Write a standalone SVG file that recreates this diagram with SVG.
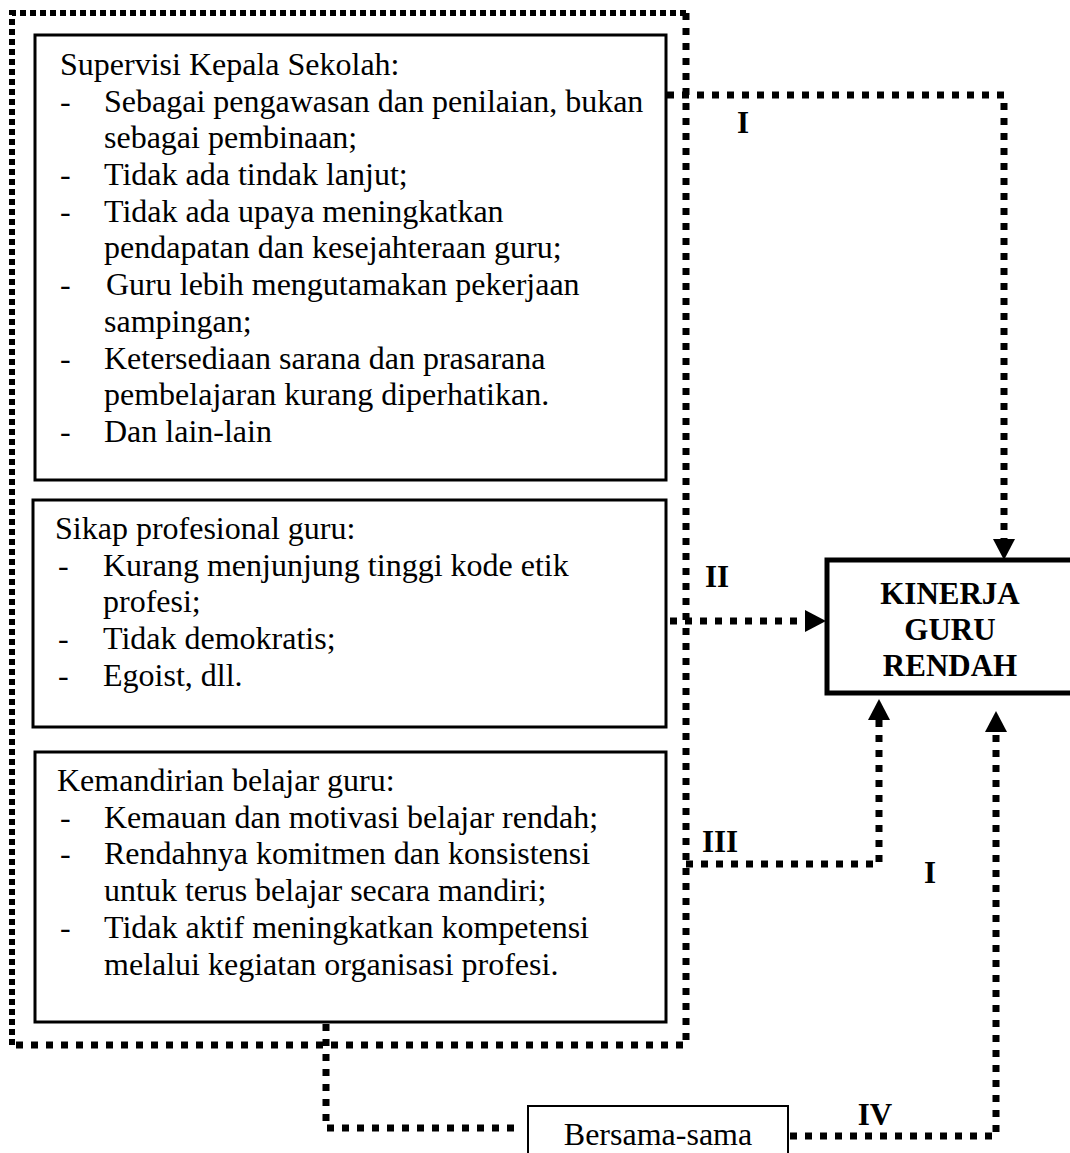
<svg xmlns="http://www.w3.org/2000/svg" width="1070" height="1153" viewBox="0 0 1070 1153">
<style>
text{font-family:"Liberation Serif","Times New Roman",serif;fill:#000}
.t{font-size:32px}
.b{font-size:31px;font-weight:bold}
.box{fill:#fff;stroke:#000;stroke-width:3}
.dot{fill:none;stroke:#000;stroke-width:7;stroke-dasharray:7 8}
.dotfine{fill:none;stroke:#000;stroke-width:6;stroke-dasharray:6 4}
</style>
<defs>
<marker id="ah" markerUnits="userSpaceOnUse" markerWidth="24" markerHeight="24" refX="0" refY="11" orient="auto" overflow="visible">
<path d="M0,0 L21,11 L0,22 z" fill="#000"/>
</marker>
</defs>
<rect width="1070" height="1153" fill="#fff"/>

<g id="group-frame">
<path class="dotfine" d="M12,1045 V13 H686"/>
<path class="dot" d="M686,13 V1045 H12"/>
</g>

<g id="node-supervisi">
<rect class="box" x="35" y="35" width="631" height="445"/>
<text class="t" x="60" y="75">Supervisi Kepala Sekolah:</text>
<text class="t" x="60" y="112">-</text><text class="t" x="104" y="112">Sebagai pengawasan dan penilaian, bukan</text>
<text class="t" x="104" y="148">sebagai pembinaan;</text>
<text class="t" x="60" y="185">-</text><text class="t" x="104" y="185">Tidak ada tindak lanjut;</text>
<text class="t" x="60" y="222">-</text><text class="t" x="104" y="222">Tidak ada upaya meningkatkan</text>
<text class="t" x="104" y="258">pendapatan dan kesejahteraan guru;</text>
<text class="t" x="60" y="295">-</text><text class="t" x="106" y="295">Guru lebih mengutamakan pekerjaan</text>
<text class="t" x="104" y="332">sampingan;</text>
<text class="t" x="60" y="369">-</text><text class="t" x="104" y="369">Ketersediaan sarana dan prasarana</text>
<text class="t" x="104" y="405">pembelajaran kurang diperhatikan.</text>
<text class="t" x="60" y="442">-</text><text class="t" x="104" y="442">Dan lain-lain</text>
</g>

<g id="node-sikap">
<rect class="box" x="33" y="500" width="633" height="227"/>
<text class="t" x="55" y="539">Sikap profesional guru:</text>
<text class="t" x="58" y="576">-</text><text class="t" x="103" y="576">Kurang menjunjung tinggi kode etik</text>
<text class="t" x="103" y="612">profesi;</text>
<text class="t" x="58" y="649">-</text><text class="t" x="103" y="649">Tidak demokratis;</text>
<text class="t" x="58" y="686">-</text><text class="t" x="103" y="686">Egoist, dll.</text>
</g>

<g id="node-kemandirian">
<rect class="box" x="35" y="752" width="631" height="270"/>
<text class="t" x="57" y="791">Kemandirian belajar guru:</text>
<text class="t" x="60" y="828">-</text><text class="t" x="104" y="828">Kemauan dan motivasi belajar rendah;</text>
<text class="t" x="60" y="864">-</text><text class="t" x="104" y="864">Rendahnya komitmen dan konsistensi</text>
<text class="t" x="104" y="901">untuk terus belajar secara mandiri;</text>
<text class="t" x="60" y="938">-</text><text class="t" x="104" y="938">Tidak aktif meningkatkan kompetensi</text>
<text class="t" x="104" y="975">melalui kegiatan organisasi profesi.</text>
</g>

<g id="node-kinerja">
<rect x="827" y="560" width="250" height="133" fill="#fff" stroke="#000" stroke-width="5"/>
<text class="b" x="950" y="604" text-anchor="middle">KINERJA</text>
<text class="b" x="950" y="640" text-anchor="middle">GURU</text>
<text class="b" x="950" y="676" text-anchor="middle">RENDAH</text>
</g>

<g id="node-bersama">
<rect x="528" y="1106" width="260" height="60" fill="#fff" stroke="#000" stroke-width="2"/>
<text class="t" x="658" y="1145" text-anchor="middle">Bersama-sama</text>
</g>

<g id="connectors">
<path class="dot" d="M667,95 H1004 V539" marker-end="url(#ah)"/>
<path class="dot" d="M670,621 H805" marker-end="url(#ah)"/>
<path class="dot" d="M686,864 H879 V720" marker-end="url(#ah)"/>
<path class="dot" d="M790,1136 H996 V732" marker-end="url(#ah)"/>
<path class="dot" d="M326,1024 V1128 H522"/>
</g>

<g id="labels">
<text class="b" x="743" y="133" text-anchor="middle">I</text>
<text class="b" x="717" y="587" text-anchor="middle">II</text>
<text class="b" x="720" y="852" text-anchor="middle">III</text>
<text class="b" x="930" y="883" text-anchor="middle">I</text>
<text class="b" x="875" y="1125" text-anchor="middle">IV</text>
</g>
</svg>
